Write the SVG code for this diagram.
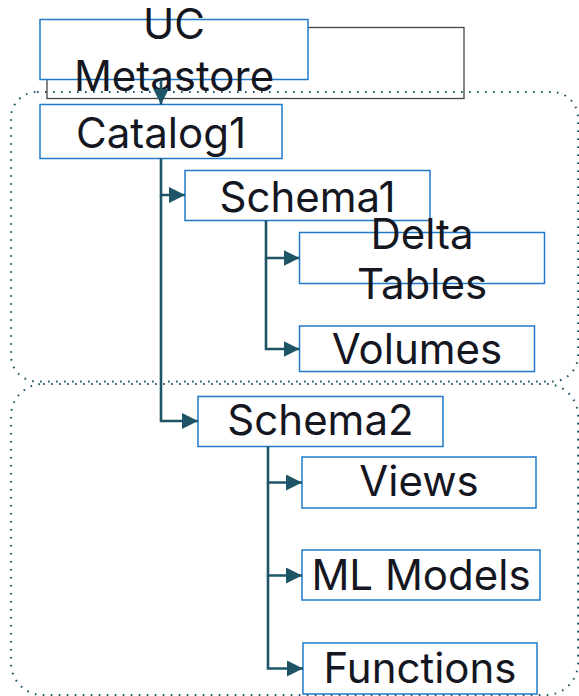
<svg xmlns="http://www.w3.org/2000/svg" width="579" height="696" viewBox="0 0 579 696">
<style>
  .box { fill: #ffffff; stroke: #1f7acc; stroke-width: 1.5; }
  .lbl { font-family: Inter, "Noto Sans", "Liberation Sans", sans-serif; font-size: 42px; fill: #14171f; text-anchor: middle; }
  .conn { fill: none; stroke: #1d5566; stroke-width: 2.6; }
  .group { fill: none; stroke: #1d5566; stroke-width: 2; stroke-dasharray: 1.6 6.4; stroke-linecap: butt; }
</style>
<defs>
  <marker id="arr" markerUnits="userSpaceOnUse" markerWidth="16" markerHeight="16" refX="16" refY="8" orient="auto">
    <path d="M0,0 L16,8 L0,16 Z" fill="#1d5566"/>
  </marker>
</defs>
<g id="groups">
  <rect class="group" x="11" y="92" width="567" height="289.5" rx="26"/>
  <rect class="group" x="11" y="384" width="567" height="311" rx="32"/>
</g>
<g id="grey-frame">
  <rect x="47" y="27.5" width="417" height="71" fill="none" stroke="#444448" stroke-width="1.3"/>
</g>
<g id="uc-metastore">
  <rect class="box" x="40" y="19.5" width="268" height="60"/>
  <text class="lbl" x="174" y="39">UC</text>
  <text class="lbl" x="174" y="91">Metastore</text>
</g>
<g id="catalog1">
  <rect class="box" x="40" y="104.5" width="242" height="54"/>
  <text class="lbl" x="161" y="148">Catalog1</text>
</g>
<g id="schema1">
  <rect class="box" x="185" y="170.5" width="245" height="50"/>
  <text class="lbl" x="307.5" y="211.5">Schema1</text>
</g>
<g id="delta-tables">
  <rect class="box" x="299.5" y="232.5" width="245" height="51"/>
  <text class="lbl" x="422" y="248.5">Delta</text>
  <text class="lbl" x="422" y="298.5">Tables</text>
</g>
<g id="volumes">
  <rect class="box" x="299.5" y="326" width="235" height="45.5"/>
  <text class="lbl" x="417" y="364">Volumes</text>
</g>
<g id="schema2">
  <rect class="box" x="198" y="396.5" width="245" height="50"/>
  <text class="lbl" x="320.5" y="435">Schema2</text>
</g>
<g id="views">
  <rect class="box" x="302" y="457" width="234" height="51"/>
  <text class="lbl" x="419" y="496">Views</text>
</g>
<g id="ml-models">
  <rect class="box" x="302" y="550" width="238" height="50"/>
  <text class="lbl" x="421" y="590">ML Models</text>
</g>
<g id="functions">
  <rect class="box" x="303" y="643" width="234" height="51"/>
  <text class="lbl" x="420" y="682.5">Functions</text>
</g>
<g id="connectors">
  <path class="conn" d="M161,79.5 V104.5" marker-end="url(#arr)"/>
  <path class="conn" d="M161,158.5 V195 H185" marker-end="url(#arr)"/>
  <path class="conn" d="M161,195 V421 H198" marker-end="url(#arr)"/>
  <path class="conn" d="M266,220.5 V258 H299.5" marker-end="url(#arr)"/>
  <path class="conn" d="M266,258 V349 H299.5" marker-end="url(#arr)"/>
  <path class="conn" d="M268,446.5 V482.5 H302" marker-end="url(#arr)"/>
  <path class="conn" d="M268,482.5 V575.5 H302" marker-end="url(#arr)"/>
  <path class="conn" d="M268,575.5 V668.5 H303" marker-end="url(#arr)"/>
</g>
</svg>
